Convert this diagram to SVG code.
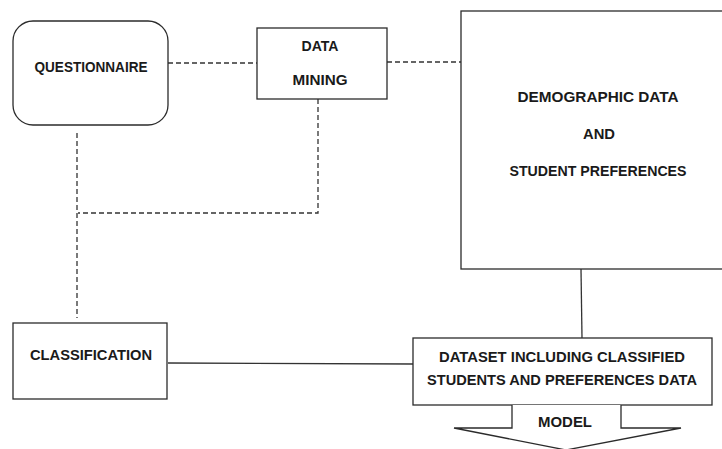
<svg xmlns="http://www.w3.org/2000/svg" width="722" height="449" viewBox="0 0 722 449">
  <style>
    .box { fill: #ffffff; stroke: #2b2b2b; stroke-width: 1.3; }
    .lbl { font-family: "Liberation Sans", Arial, sans-serif; font-weight: bold; font-size: 15px; fill: #1a1a1a; text-anchor: middle; }
    .dash { fill: none; stroke: #333333; stroke-width: 1.3; stroke-dasharray: 5 3; }
    .solid { fill: none; stroke: #333333; stroke-width: 1.3; }
  </style>
  <rect width="722" height="449" fill="#ffffff"/>

  <g id="connectors">
    <line class="dash" x1="168" y1="63" x2="257" y2="63"/>
    <line class="dash" x1="387" y1="62" x2="461" y2="62"/>
    <polyline class="dash" points="318,99 318,213 78,213"/>
    <line class="dash" x1="77" y1="133" x2="77" y2="318"/>
    <line class="solid" x1="581" y1="269" x2="582" y2="338"/>
    <line class="solid" x1="168" y1="363" x2="413" y2="364"/>
  </g>

  <g id="questionnaire">
    <rect class="box" x="13" y="21" width="155" height="104" rx="20" ry="20"/>
    <text class="lbl" x="91" y="72" textLength="113" lengthAdjust="spacingAndGlyphs">QUESTIONNAIRE</text>
  </g>

  <g id="data-mining">
    <rect class="box" x="257" y="28" width="130" height="71"/>
    <text class="lbl" x="320" y="51" textLength="37" lengthAdjust="spacingAndGlyphs">DATA</text>
    <text class="lbl" x="320" y="85" textLength="55" lengthAdjust="spacingAndGlyphs">MINING</text>
  </g>

  <g id="demographic">
    <rect class="box" x="461" y="11" width="270" height="258"/>
    <text class="lbl" x="598" y="102" textLength="161" lengthAdjust="spacingAndGlyphs">DEMOGRAPHIC DATA</text>
    <text class="lbl" x="599" y="139" textLength="32" lengthAdjust="spacingAndGlyphs">AND</text>
    <text class="lbl" x="598" y="176" textLength="177" lengthAdjust="spacingAndGlyphs">STUDENT PREFERENCES</text>
  </g>

  <g id="classification">
    <rect class="box" x="13" y="323" width="154" height="76"/>
    <text class="lbl" x="91" y="360" textLength="122" lengthAdjust="spacingAndGlyphs">CLASSIFICATION</text>
  </g>

  <g id="dataset">
    <rect class="box" x="413" y="338" width="299" height="67"/>
    <text class="lbl" x="562" y="362" textLength="246" lengthAdjust="spacingAndGlyphs">DATASET INCLUDING CLASSIFIED</text>
    <text class="lbl" x="562" y="385" textLength="270" lengthAdjust="spacingAndGlyphs">STUDENTS AND PREFERENCES DATA</text>
  </g>

  <g id="model">
    <path class="box" d="M512,405 L512,428 L454,428 L566,450 L681,428 L621,428 L621,405"/>
    <text class="lbl" x="565" y="427" textLength="54" lengthAdjust="spacingAndGlyphs">MODEL</text>
  </g>
</svg>
